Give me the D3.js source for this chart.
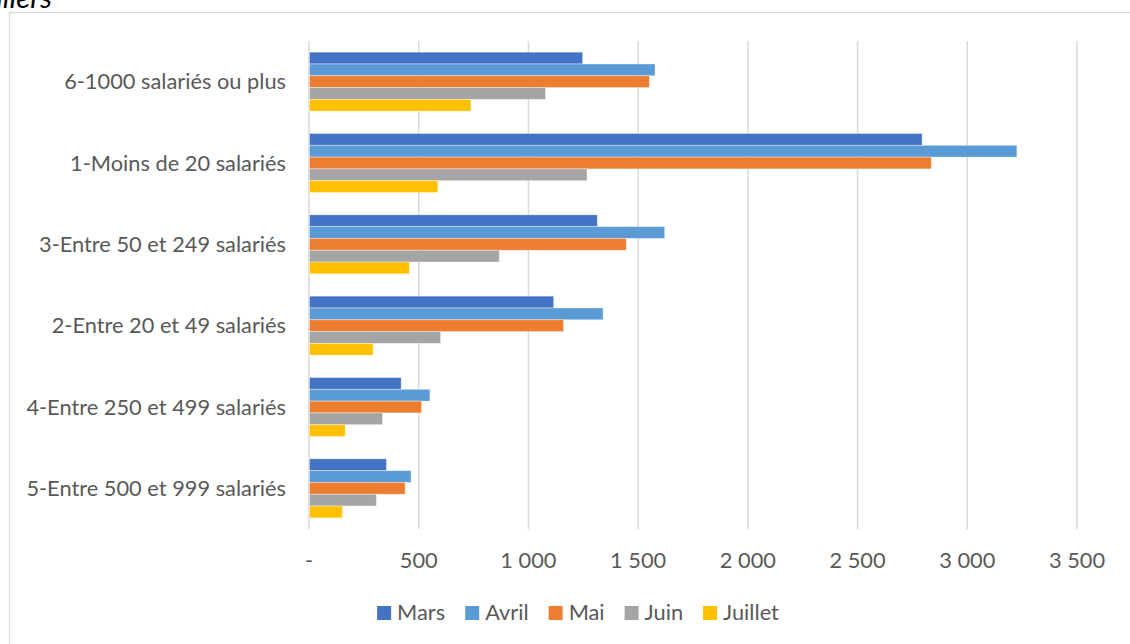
<!DOCTYPE html>
<html><head><meta charset="utf-8">
<script src="https://cdn.jsdelivr.net/npm/d3@7"></script>
<style>html,body{margin:0;padding:0;background:#fff;overflow:hidden}</style>
</head><body>
<svg id="c" width="1130" height="644"></svg>
<script>
const categories = ["6-1000 salariés ou plus","1-Moins de 20 salariés","3-Entre 50 et 249 salariés","2-Entre 20 et 49 salariés","4-Entre 250 et 499 salariés","5-Entre 500 et 999 salariés"];
const seriesNames = ["Mars","Avril","Mai","Juin","Juillet"];
const mars    = [1247, 2794, 1314, 1115, 420, 353];
const avril   = [1577, 3226, 1621, 1340, 551, 465];
const mai     = [1551, 2836, 1446, 1160, 513, 438];
const juin    = [1078, 1267, 867, 600, 335, 307];
const juillet = [738, 587, 457, 292, 165, 152];
const tickValues = [0, 500, 1000, 1500, 2000, 2500, 3000, 3500];
const colors = ["#4472C4","#5B9BD5","#ED7D31","#A5A5A5","#FFC000"];

const seriesValues = [mars, avril, mai, juin, juillet];
const FONT = "Lato, 'Open Sans', sans-serif";
const svg = d3.select("#c");

// fit font size to match reference label width
const probe = svg.append("text").attr("font-family", FONT).attr("font-size", 20).text(categories[0]);
const w20 = probe.node().getComputedTextLength();
probe.remove();
const fs = 20 * 222 / w20;

// frame
svg.append("rect").attr("x", 9.5).attr("y", 12.5).attr("width", 1200).attr("height", 700)
  .attr("fill", "none").attr("stroke", "#d9d9d9").attr("stroke-width", 1.2);

// cut-off title (partially outside the picture, as in the reference)
svg.append("text").attr("x", 52).attr("y", 8).attr("text-anchor", "end")
  .attr("font-family", FONT).attr("font-style", "italic").attr("font-size", fs * 1.35)
  .attr("fill", "#000").text("En milliers");

const x = d3.scaleLinear().domain([0, 3500]).range([309, 1077]);
const y0 = d3.scaleBand().domain(categories).range([41, 529]).paddingInner(0.2746).paddingOuter(0.1373);
const y1 = d3.scaleBand().domain(seriesNames).range([0, y0.bandwidth()]);

const loc = d3.formatLocale({decimal: ",", thousands: " ", grouping: [3], currency: ["", "€"]});
const fmt = v => v === 0 ? "-" : loc.format(",")(v);

// gridlines
svg.append("g").selectAll("line").data(tickValues).join("line")
  .attr("x1", d => x(d)).attr("x2", d => x(d)).attr("y1", 41).attr("y2", 529)
  .attr("stroke", "#d9d9d9").attr("stroke-width", 1.5);

// bars
const data = [];
categories.forEach((c, i) => seriesNames.forEach((s, j) => data.push({c, s, j, v: seriesValues[j][i]})));
svg.append("g").selectAll("rect").data(data).join("rect")
  .attr("x", x(0) + 0.5)
  .attr("y", d => y0(d.c) + y1(d.s))
  .attr("width", d => x(d.v) - x(0) - 0.5)
  .attr("height", y1.bandwidth())
  .attr("fill", d => colors[d.j])
  .attr("stroke", "rgba(255,255,255,0.45)").attr("stroke-width", 0.8);

// category labels
svg.append("g").selectAll("text").data(categories).join("text")
  .attr("x", 286).attr("y", d => y0(d) + y0.bandwidth() / 2)
  .attr("dy", "0.35em").attr("text-anchor", "end")
  .attr("font-family", FONT).attr("font-size", fs).attr("fill", "#595959").text(d => d);

// x tick labels
svg.append("g").selectAll("text").data(tickValues).join("text")
  .attr("x", d => x(d)).attr("y", 568).attr("text-anchor", "middle")
  .attr("font-family", FONT).attr("font-size", fs).attr("fill", "#595959").text(fmt);

// legend
const lg = svg.append("g");
let cx = 0;
seriesNames.forEach((s, j) => {
  const g = lg.append("g");
  g.append("rect").attr("x", cx).attr("y", 606).attr("width", 14).attr("height", 14).attr("fill", colors[j]);
  const t = g.append("text").attr("x", cx + 20).attr("y", 619.5)
    .attr("font-family", FONT).attr("font-size", fs).attr("fill", "#595959").text(s);
  const tw = t.node().getComputedTextLength();
  cx += 20 + tw + 20;
});
const total = cx - 20;
lg.attr("transform", `translate(${578 - total / 2},0)`);
</script>
</body></html>
